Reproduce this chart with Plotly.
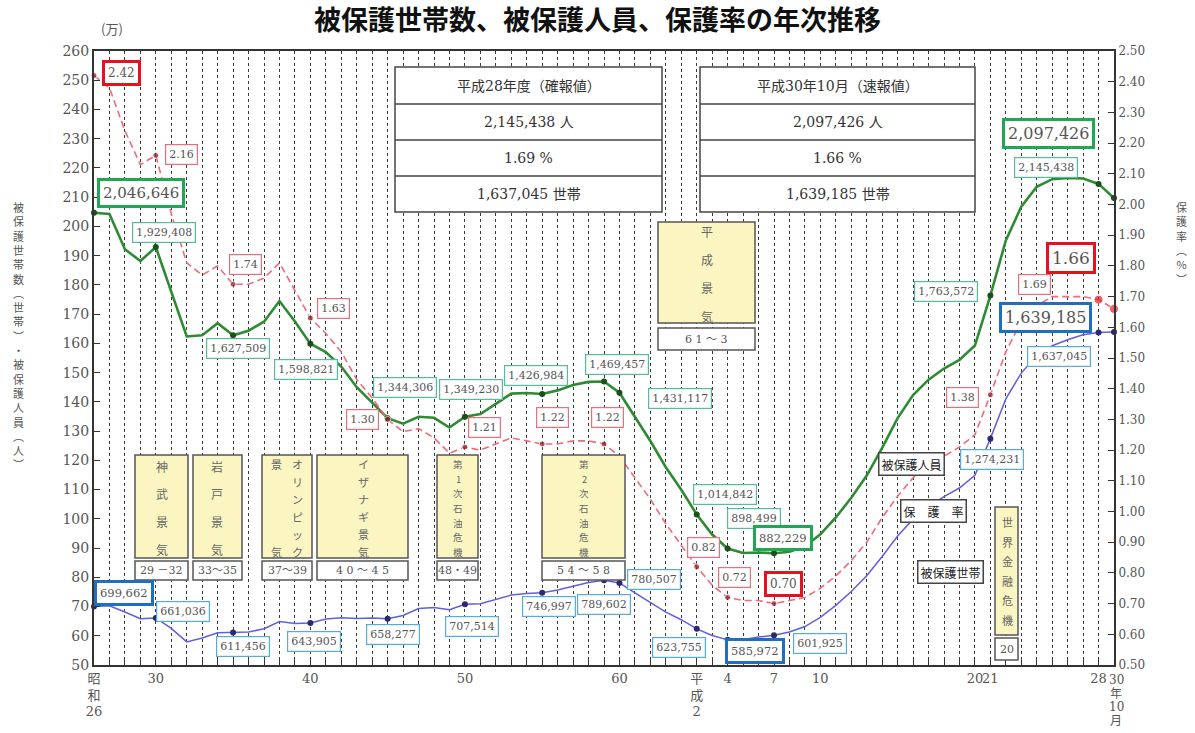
import plotly.graph_objects as go

# ---------------- data ----------------
fiscal_years = [str(y) for y in range(1951, 2017)] + ["2018.10"]

# 被保護人員 (万人)
persons_man = [
    204.6646, 204.2550, 192.2060, 188.1687, 192.9408, 177.5971, 162.3744, 162.7571, 166.9180, 162.7509,
    164.3445, 167.4001, 174.4639, 167.4661, 159.8821, 157.0054, 152.0733, 144.9970, 139.8725, 134.4306,
    132.5218, 134.9037, 134.5549, 131.2339, 134.9230, 135.8316, 139.3128, 142.8261, 143.0488, 142.6984,
    143.9226, 145.7383, 146.8245, 146.9457, 143.1117, 134.8163, 126.6126, 117.6258, 109.9520, 101.4842,
    94.6374, 89.8499, 88.3112, 88.4912, 88.2229, 88.7450, 90.5589, 94.6994, 100.4472, 107.2241,
    114.8088, 124.2723, 134.4327, 142.3388, 147.5838, 151.3892, 154.3321, 159.2620, 176.3572, 195.2063,
    206.7244, 213.5708, 216.1612, 216.5895, 216.3685, 214.5438,
    209.7426,
]

# 被保護世帯 (万世帯)
households_man = [
    69.9662, 70.2450, 68.1403, 65.8180, 66.1036, 62.5000, 57.9037, 59.2327, 61.0000, 61.1456,
    61.2666, 62.4012, 64.8773, 64.1869, 64.3905, 65.7193, 66.1647, 65.9096, 66.0509, 65.8277,
    66.9354, 69.2862, 69.6540, 68.8736, 70.7514, 70.9613, 72.3587, 73.9244, 74.4841, 74.6997,
    75.6726, 77.0388, 78.2265, 78.9602, 78.0507, 74.6355, 71.3825, 68.1018, 65.4915, 62.3755,
    60.0697, 58.5972, 58.6106, 59.5407, 60.1925, 61.3106, 63.1488, 66.3060, 70.4055, 75.1303,
    80.5169, 87.0931, 94.1270, 99.8887, 104.1508, 107.5820, 110.5275, 114.8766, 127.4231, 141.0049,
    149.8375, 155.8510, 159.1846, 161.2340, 162.9743, 163.7045,
    163.9185,
]

# 保護率 (%)
rate_pct = [
    2.42, 2.38, 2.24, 2.13, 2.16, 1.97, 1.81, 1.77, 1.80, 1.74,
    1.74, 1.76, 1.81, 1.72, 1.63, 1.58, 1.52, 1.43, 1.37, 1.30,
    1.26, 1.27, 1.24, 1.19, 1.21, 1.20, 1.22, 1.24, 1.23, 1.22,
    1.22, 1.23, 1.23, 1.22, 1.18, 1.11, 1.04, 0.96, 0.89, 0.82,
    0.76, 0.72, 0.71, 0.71, 0.70, 0.71, 0.72, 0.75, 0.79, 0.84,
    0.90, 0.98, 1.05, 1.11, 1.16, 1.18, 1.21, 1.25, 1.38, 1.52,
    1.62, 1.67, 1.70, 1.70, 1.70, 1.69,
    1.66,
]

tick_years = ["1951", "1955", "1965", "1975", "1985", "1990", "1992", "1995", "1998",
              "2008", "2009", "2016", "2018.10"]
tick_text = ["昭<br>和<br>26", "30", "40", "50", "60", "平<br>成<br>2", "4", "7", "10",
             "20", "21", "28", "30<br>年<br>10<br>月"]

label_years_persons = ["1951", "1955", "1960", "1965", "1970", "1975", "1980", "1984", "1985",
                       "1990", "1992", "1995", "2009", "2016", "2018.10"]
label_years_rate = ["1951", "1955", "1960", "1965", "1970", "1975", "1980", "1984",
                    "1990", "1992", "1995", "2009", "2016", "2018.10"]
label_years_households = ["1951", "1955", "1960", "1965", "1970", "1975", "1980", "1984", "1985",
                          "1990", "1992", "1995", "2009", "2016", "2018.10"]

boom_names = ["神武景気", "岩戸景気", "オリンピック景気", "イザナギ景気",
              "第1次石油危機", "第2次石油危機", "平成景気", "世界金融危機"]
boom_periods = ["29 －32", "33～35", "37～39", "4 0 ～ 4 5", "48・49", "5 4 ～ 5 8", "6 1 ～ 3", "20"]

legend_names = ["被保護人員", "保　護　率", "被保護世帯"]
title_text = "被保護世帯数、被保護人員、保護率の年次推移"

# ---------------- layout helpers ----------------
W, H = 1195, 733
ML, MR, MT, MB = 94, 81, 51, 68
PW, PH = W - ML - MR, H - MT - MB

NUM_FONT = "DejaVu Serif, Noto Sans CJK JP"
JP_FONT = "Noto Sans CJK JP"

def PXx(px):
    return (px - ML) / PW

def PXy(py):
    return (H - MB - py) / PH

xs = list(range(len(fiscal_years)))
idx = {y: i for i, y in enumerate(fiscal_years)}

GREEN = "#2e8b34"
RED = "#ef6a7a"
BLUE = "#5f5fe0"

fig = go.Figure()
fig.add_trace(go.Scatter(x=xs, y=persons_man, mode="lines", line=dict(color=GREEN, width=2.6),
                         name="被保護人員", cliponaxis=False))
fig.add_trace(go.Scatter(x=xs, y=households_man, mode="lines", line=dict(color=BLUE, width=1.5),
                         name="被保護世帯", cliponaxis=False))
fig.add_trace(go.Scatter(x=xs, y=rate_pct, mode="lines", yaxis="y2",
                         line=dict(color=RED, width=1.6, dash="7px,4px"),
                         name="保護率", cliponaxis=False))

fig.add_trace(go.Scatter(x=[idx[y] for y in label_years_persons],
                         y=[persons_man[idx[y]] for y in label_years_persons],
                         mode="markers", marker=dict(color="#1d4f1d", size=6), cliponaxis=False))
fig.add_trace(go.Scatter(x=[idx[y] for y in label_years_households],
                         y=[households_man[idx[y]] for y in label_years_households],
                         mode="markers", marker=dict(color="#2a2a70", size=6), cliponaxis=False))
fig.add_trace(go.Scatter(x=[idx[y] for y in label_years_rate],
                         y=[rate_pct[idx[y]] for y in label_years_rate], yaxis="y2",
                         mode="markers",
                         marker=dict(color=["#e0202a" if y in ("2016", "2018.10") else "#8a1a22"
                                            for y in label_years_rate],
                                     size=[9 if y in ("2016", "2018.10") else 6 for y in label_years_rate]),
                         cliponaxis=False))

annotations = []
shapes = []

def box_label(text, px, py, border, bw, size, color="#555", family=NUM_FONT, pad=3, bg="white"):
    annotations.append(dict(text=text, x=PXx(px), y=PXy(py), xref="paper", yref="paper",
                            showarrow=False, xanchor="center", yanchor="middle",
                            font=dict(size=size, color=color, family=family),
                            bgcolor=bg, bordercolor=border, borderwidth=bw, borderpad=pad))

# value labels: (px, py, emphasised, font size)
persons_pos = {
    "1951": (141, 193, True, 15), "1955": (164, 232, False, 11), "1960": (238, 348, False, 11),
    "1965": (306, 369, False, 11), "1970": (405, 387, False, 11), "1975": (471, 389, False, 11),
    "1980": (536, 375, False, 11), "1984": (617, 364, False, 11), "1985": (680, 398, False, 11),
    "1990": (725, 494, False, 11), "1992": (754, 518, False, 11), "1995": (783, 538, True, 11.5),
    "2009": (946, 291, False, 11), "2016": (1046, 167, False, 11), "2018.10": (1048, 134, True, 16),
}
rate_pos = {
    "1951": (121, 73, True, 12), "1955": (181, 155, False, 11), "1960": (245, 264, False, 11),
    "1965": (333, 308, False, 11), "1970": (362, 419, False, 11), "1975": (484, 427, False, 11),
    "1980": (552, 417, False, 11), "1984": (607, 417, False, 11), "1990": (703, 547, False, 11),
    "1992": (734, 577, False, 11), "1995": (783, 584, True, 12), "2009": (962, 397, False, 11),
    "2016": (1034, 284, False, 11), "2018.10": (1071, 258, True, 17),
}
households_pos = {
    "1951": (124, 593, True, 11.5), "1955": (183, 611, False, 11), "1960": (243, 646, False, 11),
    "1965": (314, 641, False, 11), "1970": (393, 634, False, 11), "1975": (472, 626, False, 11),
    "1980": (549, 606, False, 11), "1984": (604, 604, False, 11), "1985": (654, 579, False, 11),
    "1990": (679, 647, False, 11), "1992": (755, 651, True, 11.5), "1995": (820, 643, False, 11),
    "2009": (992, 459, False, 11), "2016": (1059, 356, False, 11), "2018.10": (1045, 317, True, 16),
}

for y in label_years_persons:
    px, py, emph, fs = persons_pos[y]
    box_label(f"{round(persons_man[idx[y]] * 10000):,}", px, py,
              "#1fa854" if emph else "#56bd98", 3 if emph else 1.2, fs)
for y in label_years_rate:
    px, py, emph, fs = rate_pos[y]
    box_label(f"{rate_pct[idx[y]]:.2f}", px, py,
              "#e3121e" if emph else "#ea6f7c", 3 if emph else 1.2, fs)
for y in label_years_households:
    px, py, emph, fs = households_pos[y]
    box_label(f"{round(households_man[idx[y]] * 10000):,}", px, py,
              "#1e6fc0" if emph else "#58acdc", 3 if emph else 1.2, fs)

def rect(x0, y0, x1, y1, fill="white", line="#444", lw=1.5):
    shapes.append(dict(type="rect", xref="paper", yref="paper",
                       x0=PXx(x0), x1=PXx(x1), y0=PXy(y1), y1=PXy(y0),
                       fillcolor=fill, line=dict(color=line, width=lw), layer="above"))

def hline(x0, x1, y, color="#444", lw=1.5):
    shapes.append(dict(type="line", xref="paper", yref="paper",
                       x0=PXx(x0), x1=PXx(x1), y0=PXy(y), y1=PXy(y),
                       line=dict(color=color, width=lw), layer="above"))

def text(t, px, py, size=12, color="#444", family=JP_FONT, xanchor="center"):
    annotations.append(dict(text=t, x=PXx(px), y=PXy(py), xref="paper", yref="paper",
                            showarrow=False, xanchor=xanchor, yanchor="middle",
                            font=dict(size=size, color=color, family=family)))

def vcolumn(chars, px, ytop, ybot, size=12, color="#666", family=JP_FONT):
    n = len(chars)
    for i, ch in enumerate(chars):
        py = ytop if n == 1 else ytop + (ybot - ytop) * i / (n - 1)
        text(ch, px, py, size=size, color=color, family=family)

# ---- summary tables ----
table_left = ["平成28年度（確報値）",
              f"{round(persons_man[idx['2016']] * 10000):,} 人",
              f"{rate_pct[idx['2016']]:.2f} %",
              f"{round(households_man[idx['2016']] * 10000):,} 世帯"]
table_right = ["平成30年10月（速報値）",
               f"{round(persons_man[idx['2018.10']] * 10000):,} 人",
               f"{rate_pct[idx['2018.10']]:.2f} %",
               f"{round(households_man[idx['2018.10']] * 10000):,} 世帯"]
row_edges = [67, 104, 140, 176, 212]
for (x0, x1), rows in (((395, 662), table_left), ((700, 975), table_right)):
    rect(x0, row_edges[0], x1, row_edges[-1])
    for e in row_edges[1:-1]:
        hline(x0, x1, e)
    for i, r in enumerate(rows):
        text(r, (x0 + x1) / 2, (row_edges[i] + row_edges[i + 1]) / 2, size=14, color="#333",
             family=NUM_FONT)

# ---- economic periods ----
YEL = "#fbf5c2"
boom_boxes = [
    ((135, 455, 188, 558), (135, 561, 188, 580)),
    ((193, 455, 242, 558), (193, 561, 242, 580)),
    ((262, 455, 312, 558), (262, 561, 312, 580)),
    ((317, 455, 408, 558), (317, 561, 408, 580)),
    ((437, 455, 478, 558), (437, 561, 478, 580)),
    ((542, 455, 625, 558), (542, 561, 625, 580)),
    ((658, 222, 755, 323), (658, 328, 755, 350)),
    ((995, 507, 1018, 635), (995, 638, 1018, 660)),
]
for name, period, (yb, pb) in zip(boom_names, boom_periods, boom_boxes):
    rect(*yb, fill=YEL, line="#555", lw=1.5)
    rect(*pb, fill="white", line="#555", lw=1.5)
    text(period, (pb[0] + pb[2]) / 2, (pb[1] + pb[3]) / 2, size=11, color="#555", family=NUM_FONT)

vcolumn(boom_names[0], 162, 466, 549)
vcolumn(boom_names[1], 217, 466, 549)
vcolumn(boom_names[2][:6], 297, 464, 552, size=11)
vcolumn(boom_names[2][6], 276, 464, 464, size=11)
vcolumn(boom_names[2][7], 276, 552, 552, size=11)
vcolumn(boom_names[3], 363, 464, 552, size=11)
vcolumn(boom_names[4], 458, 464, 552, size=9.5)
vcolumn(boom_names[5], 584, 464, 552, size=9.5)
vcolumn(boom_names[6], 707, 231, 316)
vcolumn(boom_names[7], 1007, 522, 620, size=11)

# ---- series name boxes ----
box_label(legend_names[0], 911, 464, "#444", 1.5, 12, color="#222", family=JP_FONT, pad=2)
box_label(legend_names[1], 933, 511, "#444", 1.5, 12, color="#222", family=JP_FONT, pad=2)
box_label(legend_names[2], 950, 572, "#444", 1.5, 12, color="#222", family=JP_FONT, pad=2)

# ---- axis titles ----
annotations.append(dict(text="<br>".join(list("被保護世帯数︵世帯︶・被保護人員︵人︶")),
                        x=PXx(18), y=PXy(335), xref="paper", yref="paper", showarrow=False,
                        xanchor="center", yanchor="middle",
                        font=dict(size=11, color="#555", family=JP_FONT)))
annotations.append(dict(text="<br>".join(list("保護率︵%︶")),
                        x=PXx(1181), y=PXy(243), xref="paper", yref="paper", showarrow=False,
                        xanchor="center", yanchor="middle",
                        font=dict(size=11, color="#555", family=JP_FONT)))
text("(万)", 112, 29, size=13, color="#555")

# last x tick label (30年10月) drawn as a tighter vertical column so it fits the page
vcolumn(tick_text[-1].split("<br>"), 1116, 680, 721, size=12, color="#555", family=NUM_FONT)
axis_ticktext = tick_text[:-1] + [""]

GRID = dict(showgrid=True, gridcolor="#3a3a3a", griddash="3px,3px", gridwidth=1.3)

fig.update_layout(
    width=W, height=H,
    margin=dict(l=ML, r=MR, t=MT, b=MB, autoexpand=False),
    paper_bgcolor="white", plot_bgcolor="white",
    showlegend=False,
    title=dict(text=f"<b>{title_text}</b>", x=0.5, xanchor="center", y=1 - 21 / H, yanchor="middle",
               font=dict(size=27, color="#111", family=JP_FONT)),
    font=dict(family=NUM_FONT, color="#555"),
    xaxis=dict(range=[0, len(fiscal_years) - 1], tickmode="array", automargin=False,
               tickvals=[idx[t] for t in tick_years], ticktext=axis_ticktext, tickangle=0,
               ticks="inside", ticklen=6, tickcolor="#333", tickwidth=1.2,
               showline=True, linecolor="#333", linewidth=2, mirror=True, zeroline=False,
               tickfont=dict(size=13, color="#555", family=NUM_FONT),
               minor=dict(tick0=0, dtick=1, ticks="inside", ticklen=5, tickcolor="#333", **GRID),
               **GRID),
    yaxis=dict(range=[50, 260], dtick=10, ticks="inside", ticklen=6, tickcolor="#333", automargin=False,
               showline=True, linecolor="#333", linewidth=2, showgrid=False, zeroline=False,
               tickfont=dict(size=14, color="#555", family=NUM_FONT)),
    yaxis2=dict(range=[0.5, 2.5], dtick=0.1, tickformat=".2f", overlaying="y", side="right",
                ticks="inside", ticklen=6, tickcolor="#333", automargin=False,
                showline=True, linecolor="#333", linewidth=2, showgrid=False, zeroline=False,
                tickfont=dict(size=12, color="#555", family=NUM_FONT)),
    annotations=annotations,
    shapes=shapes,
)

fig.write_html("out.html")
